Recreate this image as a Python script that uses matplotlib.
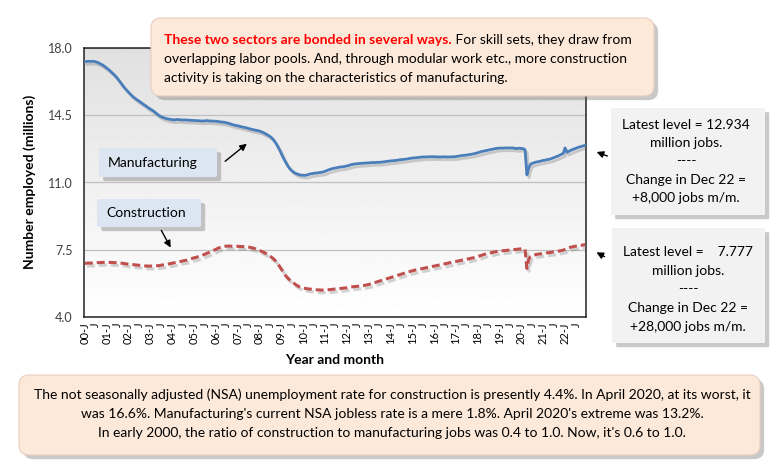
import matplotlib
matplotlib.use("Agg")
import matplotlib.pyplot as plt
import numpy as np
from matplotlib.patches import FancyBboxPatch
import matplotlib.patheffects as pe

plt.rcParams['font.family'] = ['Lato', 'DejaVu Sans']

# ---------------- data (millions of jobs, monthly, Jan 2000 - Dec 2022) ----------------
years = list(range(2000, 2023))

manufacturing_2000 = [17.29, 17.30, 17.31, 17.30, 17.31, 17.30, 17.28, 17.25, 17.20, 17.15, 17.10, 17.03]
manufacturing_2001 = [16.95, 16.88, 16.80, 16.70, 16.62, 16.52, 16.40, 16.28, 16.15, 16.02, 15.90, 15.80]
manufacturing_2002 = [15.70, 15.60, 15.50, 15.42, 15.35, 15.28, 15.22, 15.15, 15.08, 15.02, 14.95, 14.88]
manufacturing_2003 = [14.82, 14.76, 14.70, 14.62, 14.54, 14.47, 14.42, 14.38, 14.35, 14.32, 14.30, 14.29]
manufacturing_2004 = [14.27, 14.26, 14.27, 14.28, 14.27, 14.26, 14.25, 14.26, 14.25, 14.24, 14.24, 14.23]
manufacturing_2005 = [14.23, 14.22, 14.22, 14.21, 14.20, 14.20, 14.21, 14.22, 14.21, 14.20, 14.20, 14.19]
manufacturing_2006 = [14.19, 14.18, 14.16, 14.15, 14.14, 14.13, 14.10, 14.08, 14.05, 14.02, 13.99, 13.97]
manufacturing_2007 = [13.95, 13.93, 13.90, 13.88, 13.86, 13.84, 13.81, 13.78, 13.76, 13.74, 13.72, 13.70]
manufacturing_2008 = [13.68, 13.64, 13.60, 13.55, 13.50, 13.44, 13.38, 13.30, 13.18, 13.04, 12.88, 12.70]
manufacturing_2009 = [12.50, 12.30, 12.12, 11.95, 11.80, 11.68, 11.60, 11.52, 11.47, 11.43, 11.40, 11.38]
manufacturing_2010 = [11.38, 11.37, 11.39, 11.42, 11.45, 11.46, 11.48, 11.49, 11.50, 11.52, 11.53, 11.55]
manufacturing_2011 = [11.58, 11.62, 11.66, 11.69, 11.72, 11.74, 11.76, 11.78, 11.80, 11.81, 11.82, 11.84]
manufacturing_2012 = [11.86, 11.88, 11.92, 11.94, 11.96, 11.97, 11.98, 11.99, 12.00, 12.00, 12.01, 12.02]
manufacturing_2013 = [12.02, 12.03, 12.04, 12.04, 12.04, 12.05, 12.05, 12.06, 12.07, 12.08, 12.10, 12.11]
manufacturing_2014 = [12.12, 12.13, 12.14, 12.15, 12.16, 12.18, 12.19, 12.20, 12.21, 12.22, 12.24, 12.26]
manufacturing_2015 = [12.27, 12.28, 12.29, 12.30, 12.31, 12.32, 12.33, 12.33, 12.33, 12.34, 12.34, 12.34]
manufacturing_2016 = [12.34, 12.34, 12.33, 12.33, 12.33, 12.33, 12.34, 12.33, 12.33, 12.33, 12.34, 12.34]
manufacturing_2017 = [12.35, 12.37, 12.38, 12.40, 12.41, 12.42, 12.43, 12.45, 12.46, 12.48, 12.50, 12.52]
manufacturing_2018 = [12.55, 12.58, 12.61, 12.63, 12.65, 12.67, 12.69, 12.71, 12.73, 12.75, 12.77, 12.78]
manufacturing_2019 = [12.79, 12.79, 12.79, 12.80, 12.80, 12.80, 12.80, 12.80, 12.79, 12.76, 12.78, 12.78]
manufacturing_2020 = [12.77, 12.76, 12.70, 11.40, 11.75, 11.95, 12.00, 12.03, 12.06, 12.08, 12.10, 12.12]
manufacturing_2021 = [12.15, 12.16, 12.19, 12.20, 12.23, 12.26, 12.30, 12.34, 12.37, 12.42, 12.47, 12.51]
manufacturing_2022 = [12.80, 12.58, 12.62, 12.67, 12.71, 12.75, 12.78, 12.82, 12.85, 12.88, 12.91, 12.934]

construction_2000 = [6.79, 6.80, 6.81, 6.80, 6.81, 6.82, 6.82, 6.83, 6.83, 6.84, 6.84, 6.85]
construction_2001 = [6.85, 6.85, 6.84, 6.84, 6.83, 6.83, 6.82, 6.81, 6.80, 6.79, 6.78, 6.76]
construction_2002 = [6.75, 6.74, 6.73, 6.72, 6.71, 6.70, 6.69, 6.68, 6.67, 6.66, 6.65, 6.65]
construction_2003 = [6.65, 6.65, 6.66, 6.66, 6.67, 6.68, 6.70, 6.71, 6.72, 6.74, 6.76, 6.78]
construction_2004 = [6.80, 6.82, 6.84, 6.86, 6.88, 6.90, 6.92, 6.94, 6.96, 6.99, 7.02, 7.05]
construction_2005 = [7.08, 7.10, 7.13, 7.16, 7.19, 7.23, 7.27, 7.31, 7.35, 7.40, 7.44, 7.48]
construction_2006 = [7.52, 7.57, 7.61, 7.64, 7.66, 7.68, 7.69, 7.69, 7.69, 7.68, 7.68, 7.68]
construction_2007 = [7.68, 7.67, 7.67, 7.66, 7.66, 7.65, 7.64, 7.62, 7.60, 7.57, 7.54, 7.50]
construction_2008 = [7.46, 7.42, 7.38, 7.33, 7.28, 7.22, 7.15, 7.08, 7.00, 6.90, 6.78, 6.64]
construction_2009 = [6.50, 6.35, 6.20, 6.08, 5.98, 5.90, 5.82, 5.75, 5.68, 5.62, 5.57, 5.54]
construction_2010 = [5.52, 5.49, 5.47, 5.46, 5.45, 5.44, 5.43, 5.42, 5.41, 5.41, 5.40, 5.40]
construction_2011 = [5.40, 5.41, 5.42, 5.43, 5.44, 5.45, 5.46, 5.47, 5.48, 5.49, 5.50, 5.51]
construction_2012 = [5.52, 5.54, 5.56, 5.57, 5.58, 5.59, 5.60, 5.61, 5.62, 5.63, 5.65, 5.67]
construction_2013 = [5.69, 5.72, 5.75, 5.78, 5.81, 5.84, 5.87, 5.90, 5.93, 5.96, 5.99, 6.02]
construction_2014 = [6.05, 6.08, 6.11, 6.14, 6.17, 6.20, 6.23, 6.26, 6.29, 6.32, 6.35, 6.38]
construction_2015 = [6.40, 6.43, 6.45, 6.47, 6.49, 6.51, 6.53, 6.55, 6.57, 6.59, 6.61, 6.63]
construction_2016 = [6.65, 6.67, 6.69, 6.71, 6.73, 6.75, 6.77, 6.79, 6.81, 6.83, 6.85, 6.87]
construction_2017 = [6.89, 6.91, 6.93, 6.95, 6.97, 6.99, 7.01, 7.03, 7.05, 7.07, 7.09, 7.12]
construction_2018 = [7.15, 7.18, 7.21, 7.24, 7.27, 7.30, 7.32, 7.34, 7.36, 7.38, 7.40, 7.42]
construction_2019 = [7.43, 7.44, 7.45, 7.46, 7.47, 7.48, 7.49, 7.50, 7.51, 7.52, 7.53, 7.54]
construction_2020 = [7.55, 7.56, 7.52, 6.53, 7.00, 7.15, 7.20, 7.22, 7.25, 7.27, 7.28, 7.29]
construction_2021 = [7.31, 7.32, 7.34, 7.35, 7.36, 7.38, 7.39, 7.40, 7.42, 7.44, 7.46, 7.48]
construction_2022 = [7.52, 7.56, 7.60, 7.63, 7.65, 7.67, 7.69, 7.70, 7.72, 7.73, 7.75, 7.777]

y_ticks = [4.0, 7.5, 11.0, 14.5, 18.0]

manufacturing = [v for y in years for v in globals()[f"manufacturing_{y}"]]
construction = [v for y in years for v in globals()[f"construction_{y}"]]
months = np.arange(len(manufacturing))
tick_labels = []
for y in years:
    tick_labels += [f"{y % 100:02d}-J", "J"]
tick_pos = np.arange(0, len(months), 6)

# ---------------- figure ----------------
W, H = 778, 473
fig = plt.figure(figsize=(W / 100, H / 100), dpi=100)
fig.patch.set_facecolor("white")

L, R, T, B = 84, 586, 48, 317
ax = fig.add_axes([L / W, 1 - B / H, (R - L) / W, (B - T) / H])

# gradient background
grad = np.linspace(0.88, 1.0, 256).reshape(-1, 1)
ax.imshow(grad, extent=[-0.5, len(months) - 0.5, 4, 18], aspect="auto",
          cmap="gray", vmin=0, vmax=1, origin="upper", zorder=0)

shadow = [pe.SimpleLineShadow(offset=(1.5, -2), alpha=0.25, shadow_color="#555555"), pe.Normal()]
ax.plot(months, manufacturing, color="#4a7ebb", lw=2.0, zorder=3,
        path_effects=shadow, solid_joinstyle="round")
ax.plot(months, construction, color="#c0504d", lw=2.2, zorder=3,
        linestyle=(0, (2.6, 1.3)), path_effects=shadow)

ax.set_xlim(-0.5, len(months) - 0.5)
ax.set_ylim(4, 18)
ax.set_yticks(y_ticks)
ax.set_yticklabels([f"{v:.1f}" for v in y_ticks], fontsize=9, color="#404040")
ax.yaxis.grid(True, color="#c0c0c0", lw=0.9, zorder=1)
ax.set_axisbelow(True)
ax.set_xticks(tick_pos)
ax.set_xticklabels(tick_labels, rotation=90, fontsize=8)
ax.tick_params(axis="both", length=0)
ax.tick_params(axis="x", pad=4)
ax.tick_params(axis="y", pad=8)
for s in ax.spines.values():
    s.set_color("#222222")
    s.set_linewidth(1.1)

# ---------------- overlay in pixel coords ----------------
ov = fig.add_axes([0, 0, 1, 1], zorder=5)
ov.set_xlim(0, W)
ov.set_ylim(H, 0)
ov.axis("off")
ov.patch.set_alpha(0)


def box(x0, y0, x1, y1, fc, r=8, ec="none"):
    p = FancyBboxPatch((x0 + r, y0 + r), (x1 - x0) - 2 * r, (y1 - y0) - 2 * r,
                       boxstyle=f"round,pad={r},rounding_size={r}",
                       fc=fc, ec=ec, lw=0.8, zorder=2,
                       path_effects=[pe.SimplePatchShadow(offset=(3, -3), alpha=0.35,
                                                          shadow_rgbFace="#666666"),
                                     pe.Normal()])
    ov.add_patch(p)


fs = 10.0
# top note
box(151, 18, 654, 96, "#fde9d9", r=10, ec="#e8cfc0")
t1 = ov.text(164, 40, "These two sectors are bonded in several ways.", color="#ff0000",
             fontweight="bold", fontsize=fs, va="center", ha="left", zorder=3)
ov.annotate(" For skill sets, they draw from", xy=(1, 0), xycoords=t1, va="bottom",
            ha="left", fontsize=fs, color="black", zorder=3)
ov.text(164, 59, "overlapping labor pools. And, through modular work etc., more construction",
        fontsize=fs, va="center", ha="left", zorder=3)
ov.text(164, 78, "activity is taking on the characteristics of manufacturing.",
        fontsize=fs, va="center", ha="left", zorder=3)

# series labels
box(99, 148, 217, 177, "#dce6f2", r=2)
ov.text(108, 162.5, "Manufacturing", fontsize=fs, va="center", ha="left", zorder=3)
box(97, 199, 201, 227, "#dce6f2", r=2)
ov.text(106, 213, "Construction", fontsize=fs, va="center", ha="left", zorder=3)

arrow = dict(arrowstyle="-|>", color="black", lw=1.0, mutation_scale=10)
ov.annotate("", xy=(249, 142), xytext=(223, 163), arrowprops=arrow, zorder=4)
ov.annotate("", xy=(172, 250), xytext=(160, 228), arrowprops=arrow, zorder=4)

# right boxes
box(611, 108, 765, 215, "#f2f2f2", r=1)
for yy, s in zip([125, 143, 161, 180, 198],
                 ["Latest level = 12.934", "million jobs.", "----",
                  "Change in Dec 22 =", "+8,000 jobs m/m."]):
    ov.text(686, yy, s, fontsize=fs, ha="center", va="center", zorder=3)
box(612, 228, 765, 343, "#f2f2f2", r=1)
for yy, s in zip([252, 271, 289, 308, 327],
                 ["Latest level =    7.777", "million jobs.", "----",
                  "Change in Dec 22 =", "+28,000 jobs m/m."]):
    ov.text(688, yy, s, fontsize=fs, ha="center", va="center", zorder=3)

ov.annotate("", xy=(594, 151), xytext=(610, 157), arrowprops=arrow, zorder=4)
ov.annotate("", xy=(594, 251), xytext=(607, 258), arrowprops=arrow, zorder=4)

# bottom note
box(19, 375, 760, 455, "#fde9d9", r=10, ec="#e8cfc0")
for yy, s in zip([395, 414, 433],
                 ["The not seasonally adjusted (NSA) unemployment rate for construction is presently 4.4%. In April 2020, at its worst, it",
                  "was 16.6%. Manufacturing's current NSA jobless rate is a mere 1.8%. April 2020's extreme was 13.2%.",
                  "In early 2000, the ratio of construction to manufacturing jobs was 0.4 to 1.0. Now, it's 0.6 to 1.0."]):
    ov.text(392, yy, s, fontsize=fs, ha="center", va="center", zorder=3)

# axis titles
ov.text(30, 182, "Number employed (millions)", rotation=90, fontsize=10, fontweight="bold",
        ha="center", va="center")
ov.text(335, 360, "Year and month", fontsize=10, fontweight="bold", ha="center", va="center")

fig.savefig("out.png", dpi=100)
